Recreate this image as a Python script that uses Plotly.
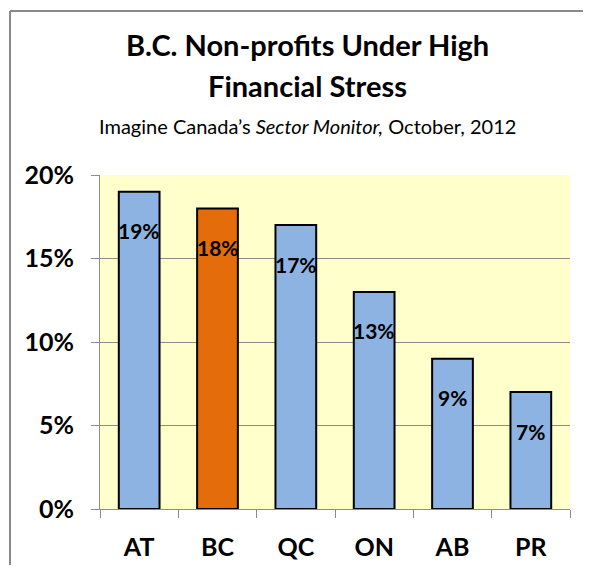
import plotly.graph_objects as go

categories = ["AT", "BC", "QC", "ON", "AB", "PR"]
values = [0.19, 0.18, 0.17, 0.13, 0.09, 0.07]
labels = ["19%", "18%", "17%", "13%", "9%", "7%"]
highlight = "BC"

BLUE = "#8DB3E2"
ORANGE = "#E46C0A"
GRID = "#8C8C8C"
FONT = "Lato"

OFF = 8  # default page body margin
W, H = 591 - 2 * OFF, 573 - 2 * OFF
ML, MR, MT, MB = 92, 13, 167, 56
PW, PH = W - ML - MR, H - MT - MB


def px_x(x):
    """reference-screen x -> paper coords"""
    return (x - OFF - ML) / PW


def px_y(y):
    """reference-screen y -> paper coords"""
    return (H - MB - (y - OFF)) / PH


colors = [ORANGE if c == highlight else BLUE for c in categories]

fig = go.Figure()
fig.add_trace(go.Bar(
    x=categories, y=values,
    marker=dict(color=colors, line=dict(color="black", width=2)),
    width=0.52, hoverinfo="skip",
))

for c, v, t in zip(categories, values, labels):
    fig.add_annotation(x=c, y=v, text=f"<b>{t}</b>", showarrow=False,
                       yanchor="middle", yshift=-39,
                       font=dict(family=FONT, size=21, color="black"))

cx = px_x(307)
fig.add_annotation(xref="paper", yref="paper", x=cx, y=px_y(45),
                   text="<b>B.C. Non-profits Under High</b>", showarrow=False,
                   xanchor="center", yanchor="middle",
                   font=dict(family=FONT, size=29, color="black"))
fig.add_annotation(xref="paper", yref="paper", x=cx, y=px_y(85),
                   text="<b>Financial Stress</b>", showarrow=False,
                   xanchor="center", yanchor="middle",
                   font=dict(family=FONT, size=29, color="black"))
fig.add_annotation(xref="paper", yref="paper", x=cx, y=px_y(126),
                   text="Imagine Canada\u2019s <i>Sector Monitor,</i> October, 2012",
                   showarrow=False, xanchor="center", yanchor="middle",
                   font=dict(family=FONT, size=20, color="black"))

# outer chart frame (left and top edges visible)
fig.add_shape(type="line", xref="paper", yref="paper",
              x0=px_x(10), x1=px_x(10), y0=px_y(11), y1=px_y(600),
              line=dict(color="#8A8A8A", width=2))
fig.add_shape(type="line", xref="paper", yref="paper",
              x0=px_x(10), x1=px_x(620), y0=px_y(11), y1=px_y(11),
              line=dict(color="#8A8A8A", width=2))

fig.update_layout(
    width=W, height=H,
    margin=dict(l=ML, r=MR, t=MT, b=MB, pad=0, autoexpand=False),
    paper_bgcolor="white", plot_bgcolor="#FFFFCC",
    showlegend=False,
    font=dict(family=FONT, color="black"),
)
fig.update_xaxes(
    type="category", showline=True, linecolor=GRID, linewidth=1,
    ticks="outside", tickson="boundaries", ticklen=8, tickcolor=GRID, tickwidth=1,
    showgrid=False, ticklabelstandoff=16, automargin=False,
    tickfont=dict(family=FONT, size=25, color="black", weight="bold"),
)
fig.update_yaxes(
    range=[0, 0.2], dtick=0.05, tickformat=".0%",
    showline=True, linecolor=GRID, linewidth=1,
    ticks="outside", ticklen=8, tickcolor=GRID, tickwidth=1,
    showgrid=True, gridcolor=GRID, gridwidth=1, zeroline=False,
    ticklabelstandoff=12, automargin=False,
    tickfont=dict(family=FONT, size=25, color="black", weight="bold"),
)

fig.write_html("out.html", config={"displayModeBar": False})
